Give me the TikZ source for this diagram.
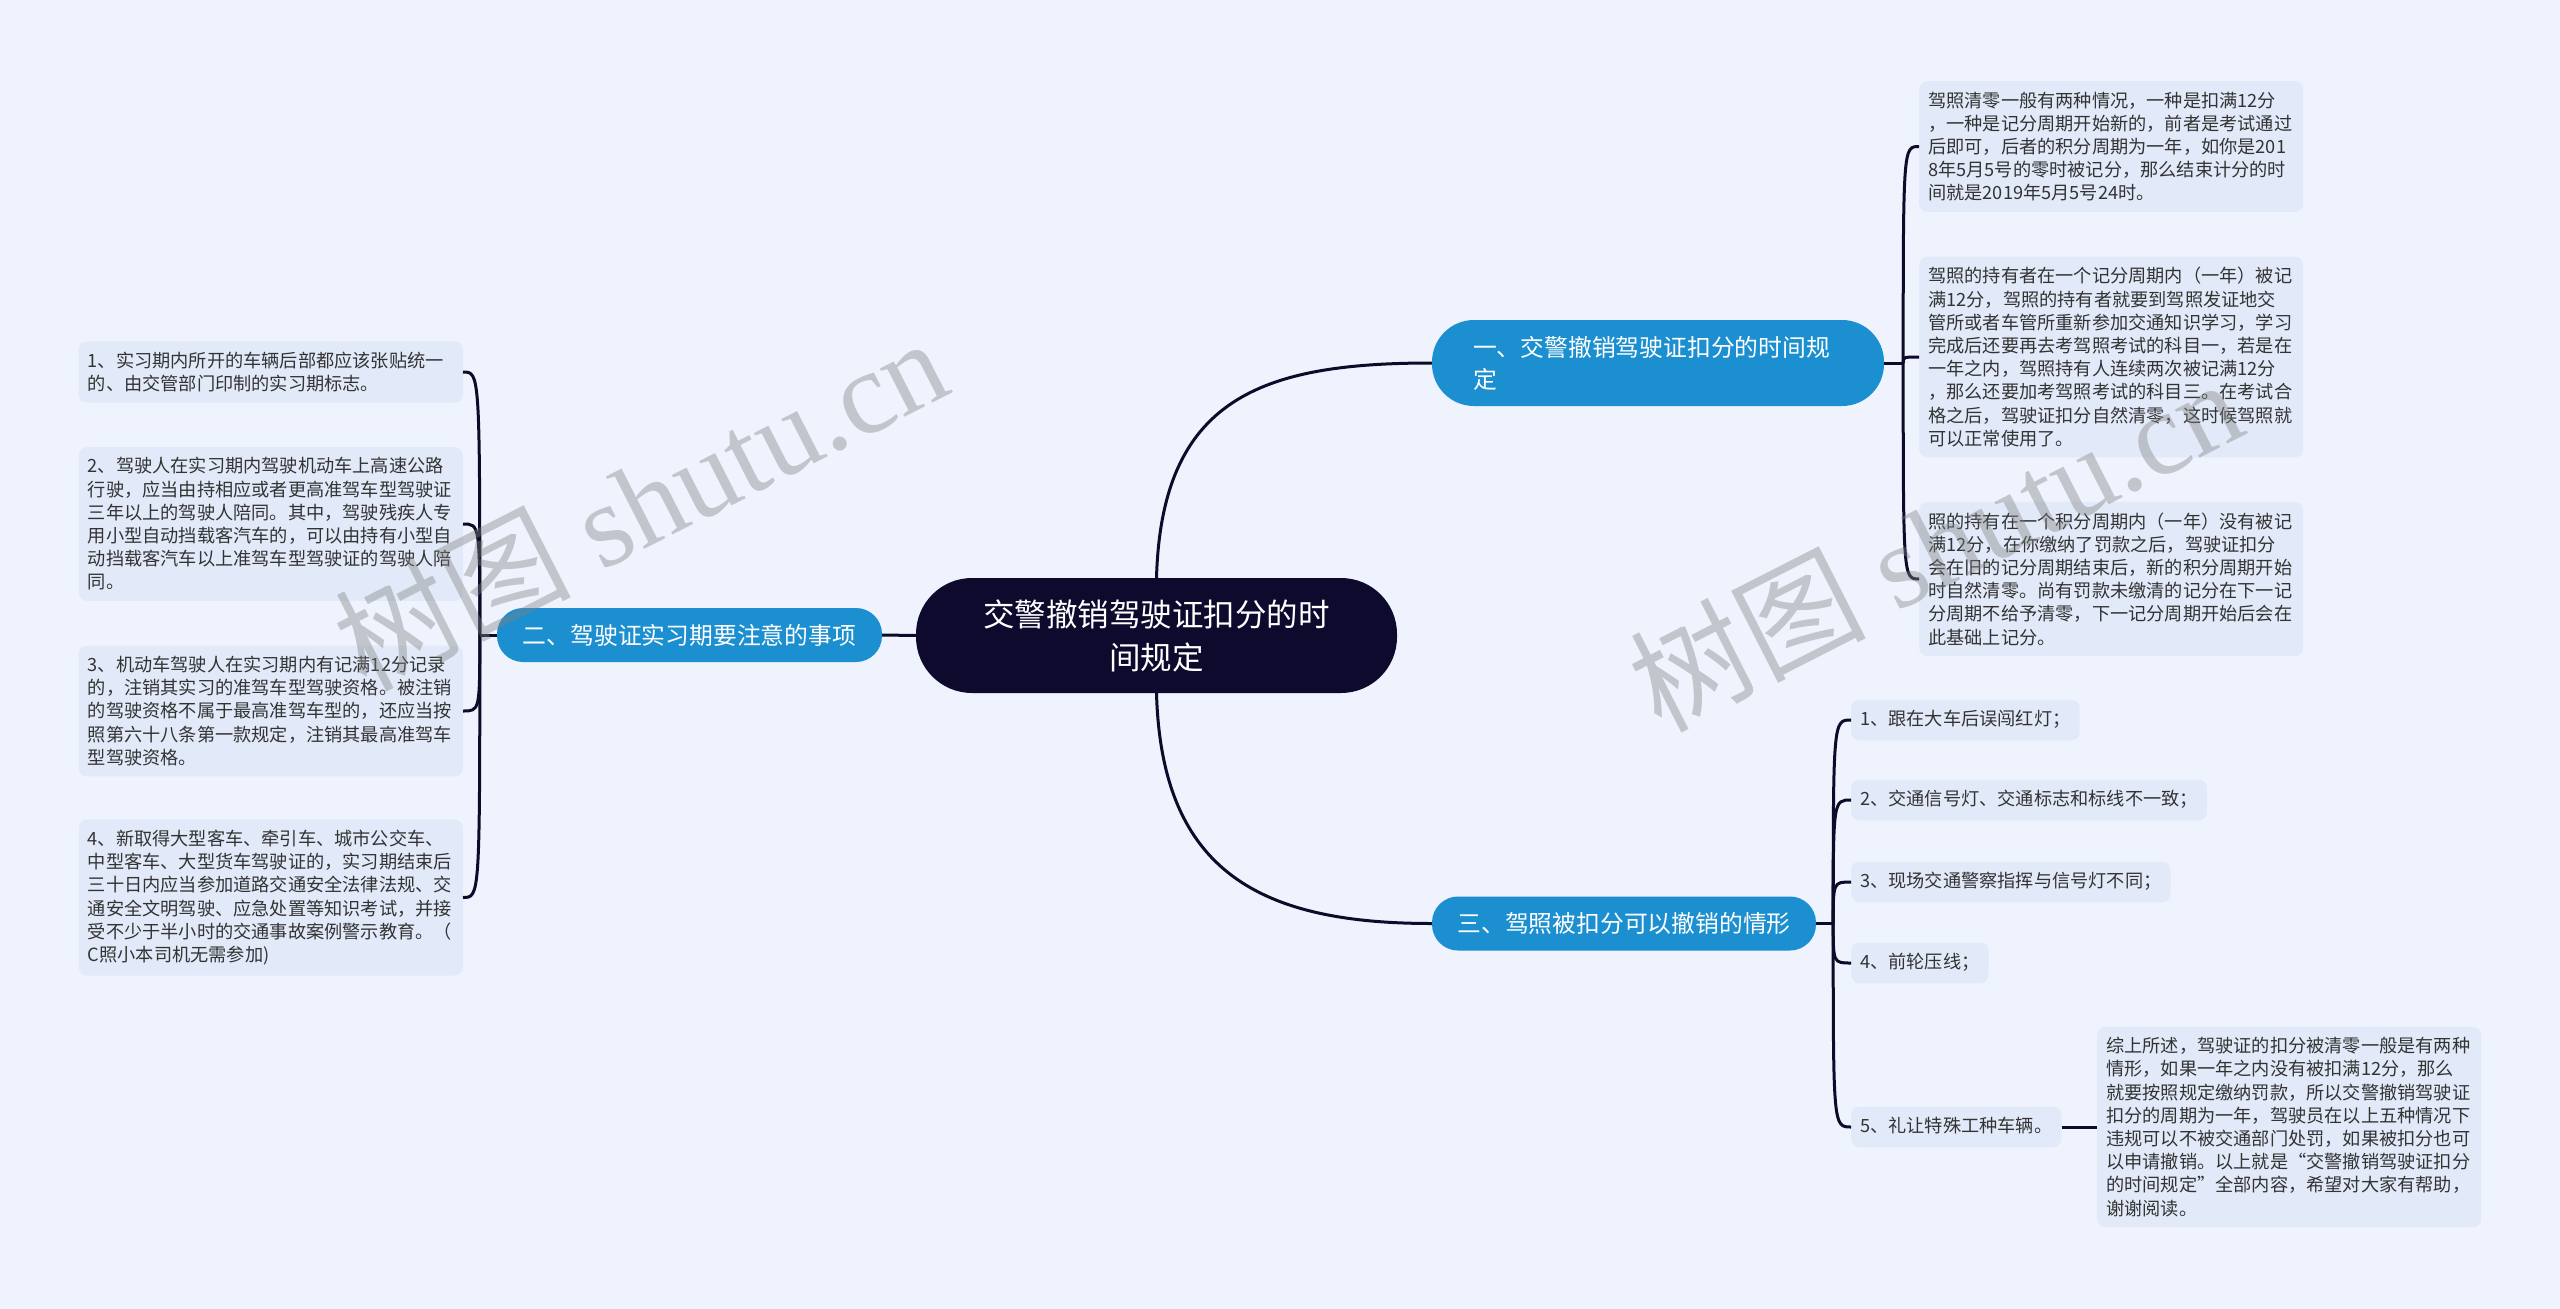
\documentclass[tikz,border=0pt]{standalone}
\usepackage{fontspec}
\setmainfont{Noto Sans CJK SC}
\newfontfamily\wmfont{Liberation Serif}
\usetikzlibrary{calc}
\definecolor{bgcol}{HTML}{EEF3FD}
\definecolor{leafcol}{HTML}{E2EAF9}
\definecolor{rootcol}{HTML}{0D0A2E}
\definecolor{branchcol}{HTML}{1B8FD0}
\definecolor{linecol}{HTML}{0D0B2A}
\definecolor{textcol}{HTML}{333333}

\begin{document}
\begin{tikzpicture}[x=1pt,y=-1pt,
	line/.style={draw=linecol, line width=3pt},
	root/.style={fill=rootcol, text=white, rounded corners=56, inner sep=0,
		minimum width=481, minimum height=115, text width=348, align=center,
		font=\fontsize{31.5}{43}\selectfont},
	branch/.style={fill=branchcol, text=white, inner sep=0, minimum height=54,
		font=\fontsize{23.8}{32}\selectfont},
	leaf/.style={fill=leafcol, text=textcol, rounded corners=8, inner xsep=9, inner ysep=10.5,
		font=\fontsize{18.2}{23.2}\selectfont},
	note/.style={leaf, text width=366, align=left},
	item/.style={leaf, text height=15, text depth=4.5},
	wmark/.style={text=gray, opacity=.4, rotate=27, font=\fontsize{118}{118}\wmfont}]
\fill[bgcol] (0,0) rectangle (2560,1309);
\useasboundingbox (0,0) rectangle (2560,1309);

% main topic and branches
\node[root] (root) at (1156.5,635.5) {交警撤销驾驶证扣分的时\\间规定};
\node[branch, rounded corners=42, minimum width=452, minimum height=86, text width=370, align=left] (b1) at (1658,363) {一、交警撤销驾驶证扣分的时间规\\定};
\node[branch, rounded corners=26, minimum width=385] (b2) at (689.5,635) {二、驾驶证实习期要注意的事项};
\node[branch, rounded corners=26, minimum width=384] (b3) at (1624,923.5) {三、驾照被扣分可以撤销的情形};

\draw[line] (root.north) .. controls +(5,-180) and +(-170,0) .. (b1.west);
\draw[line] (root.west) -- (b2.east);
\draw[line] (root.south) .. controls +(5,180) and +(-170,0) .. (b3.west);

% branch 1
\node[note, anchor=west] (l1a) at (1919,146.5) {驾照清零一般有两种情况，一种是扣满12分\\，一种是记分周期开始新的，前者是考试通过\\后即可，后者的积分周期为一年，如你是201\\8年5月5号的零时被记分，那么结束计分的时\\间就是2019年5月5号24时。};
\node[note, anchor=west] (l1b) at (1919,357) {驾照的持有者在一个记分周期内（一年）被记\\满12分，驾照的持有者就要到驾照发证地交\\管所或者车管所重新参加交通知识学习，学习\\完成后还要再去考驾照考试的科目一，若是在\\一年之内，驾照持有人连续两次被记满12分\\，那么还要加考驾照考试的科目三。在考试合\\格之后，驾驶证扣分自然清零，这时候驾照就\\可以正常使用了。};
\node[note, anchor=west] (l1c) at (1919,579) {照的持有在一个积分周期内（一年）没有被记\\满12分，在你缴纳了罚款之后，驾驶证扣分\\会在旧的记分周期结束后，新的积分周期开始\\时自然清零。尚有罚款未缴清的记分在下一记\\分周期不给予清零，下一记分周期开始后会在\\此基础上记分。};
\draw[line] (b1.east) -- ++(19,0) coordinate (j1);
\foreach \n in {l1a,l1b,l1c}
	\draw[line] (j1) .. controls (j1 |- \n.west) .. (\n.west);

% branch 2
\node[note, anchor=east] (l2a) at (463,372) {1、实习期内所开的车辆后部都应该张贴统一\\的、由交管部门印制的实习期标志。};
\node[note, anchor=east] (l2b) at (463,524) {2、驾驶人在实习期内驾驶机动车上高速公路\\行驶，应当由持相应或者更高准驾车型驾驶证\\三年以上的驾驶人陪同。其中，驾驶残疾人专\\用小型自动挡载客汽车的，可以由持有小型自\\动挡载客汽车以上准驾车型驾驶证的驾驶人陪\\同。};
\node[note, anchor=east] (l2c) at (463,711) {3、机动车驾驶人在实习期内有记满12分记录\\的，注销其实习的准驾车型驾驶资格。被注销\\的驾驶资格不属于最高准驾车型的，还应当按\\照第六十八条第一款规定，注销其最高准驾车\\型驾驶资格。};
\node[note, anchor=east] (l2d) at (463,897.5) {4、新取得大型客车、牵引车、城市公交车、\\中型客车、大型货车驾驶证的，实习期结束后\\三十日内应当参加道路交通安全法律法规、交\\通安全文明驾驶、应急处置等知识考试，并接\\受不少于半小时的交通事故案例警示教育。（\\C照小本司机无需参加)};
\draw[line] (b2.west) -- ++(-17,0) coordinate (j2);
\foreach \n in {l2a,l2b,l2c,l2d}
	\draw[line] (j2) .. controls (j2 |- \n.east) .. (\n.east);

% branch 3
\draw[line] (b3.east) -- ++(17,0) coordinate (j3);
\foreach \txt/\yy [count=\i] in {1、跟在大车后误闯红灯；/720, 2、交通信号灯、交通标志和标线不一致；/800, 3、现场交通警察指挥与信号灯不同；/882, 4、前轮压线；/963, 5、礼让特殊工种车辆。/1127} {
	\node[item, anchor=west] (i\i) at (1851,\yy) {\txt};
	\draw[line] (j3) .. controls (j3 |- i\i.west) .. (i\i.west);
}
\node[note, anchor=west] (sum) at (2097,1127) {综上所述，驾驶证的扣分被清零一般是有两种\\情形，如果一年之内没有被扣满12分，那么\\就要按照规定缴纳罚款，所以交警撤销驾驶证\\扣分的周期为一年，驾驶员在以上五种情况下\\违规可以不被交通部门处罚，如果被扣分也可\\以申请撤销。以上就是“交警撤销驾驶证扣分\\的时间规定”全部内容，希望对大家有帮助，\\谢谢阅读。};
\draw[line] (i5.east) -- (sum.west);

% watermarks
\node[wmark] (wm1) at (640,502) {{\rmfamily 树图} shutu.cn};
\node[wmark] (wm2) at (1935,543) {{\rmfamily 树图} shutu.cn};
\end{tikzpicture}
\end{document}
